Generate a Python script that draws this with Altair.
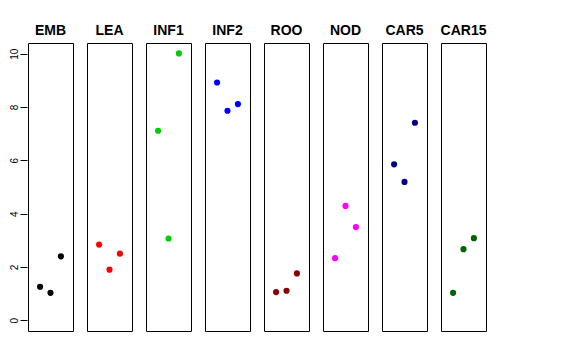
import altair as alt
import pandas as pd

groups = ["EMB", "LEA", "INF1", "INF2", "ROO", "NOD", "CAR5", "CAR15"]
colors = ["#000000", "#FF0000", "#00CD00", "#0000FF", "#8B0000", "#FF00FF", "#00008B", "#006400"]
values = {
    "EMB": [1.26, 1.03, 2.40],
    "LEA": [2.84, 1.90, 2.50],
    "INF1": [7.11, 3.07, 10.01],
    "INF2": [8.92, 7.86, 8.11],
    "ROO": [1.06, 1.11, 1.76],
    "NOD": [2.33, 4.29, 3.50],
    "CAR5": [5.85, 5.19, 7.41],
    "CAR15": [1.03, 2.67, 3.08],
}
positions = [1, 2, 3]

rows = []
for g in groups:
    for p, v in zip(positions, values[g]):
        rows.append({"group": g, "pos": p, "value": v})
df = pd.DataFrame(rows)

base = alt.Chart(df).mark_circle(size=38, opacity=1).encode(
    x=alt.X("pos:Q", scale=alt.Scale(domain=[-0.16, 4.16], nice=False, zero=False), axis=None),
    y=alt.Y(
        "value:Q",
        scale=alt.Scale(domain=[-0.4, 10.4], nice=False, zero=False),
        axis=alt.Axis(
            title=None, values=[0, 2, 4, 6, 8, 10], grid=False, domain=False,
            tickSize=7, tickColor="#000000", labelColor="#000000", labelFontSize=10,
            labelFont="Liberation Sans", labelAngle=270, labelAlign="center",
            labelBaseline="bottom", labelPadding=1,
        ),
    ),
    color=alt.Color("group:N", scale=alt.Scale(domain=groups, range=colors), legend=None),
).properties(width=45, height=288)

chart = base.facet(
    column=alt.Column(
        "group:N", sort=groups,
        header=alt.Header(title=None, labelFontWeight="bold", labelFontSize=14,
                          labelFont="Liberation Sans", labelColor="#000000", labelPadding=4),
    ),
    spacing=12,
).configure_view(stroke="#000000", strokeWidth=1).properties(
    padding={"left": 0, "top": 16, "right": 5, "bottom": 5}
)

chart.save("out.html", embed_options={"renderer": "svg", "actions": False})
